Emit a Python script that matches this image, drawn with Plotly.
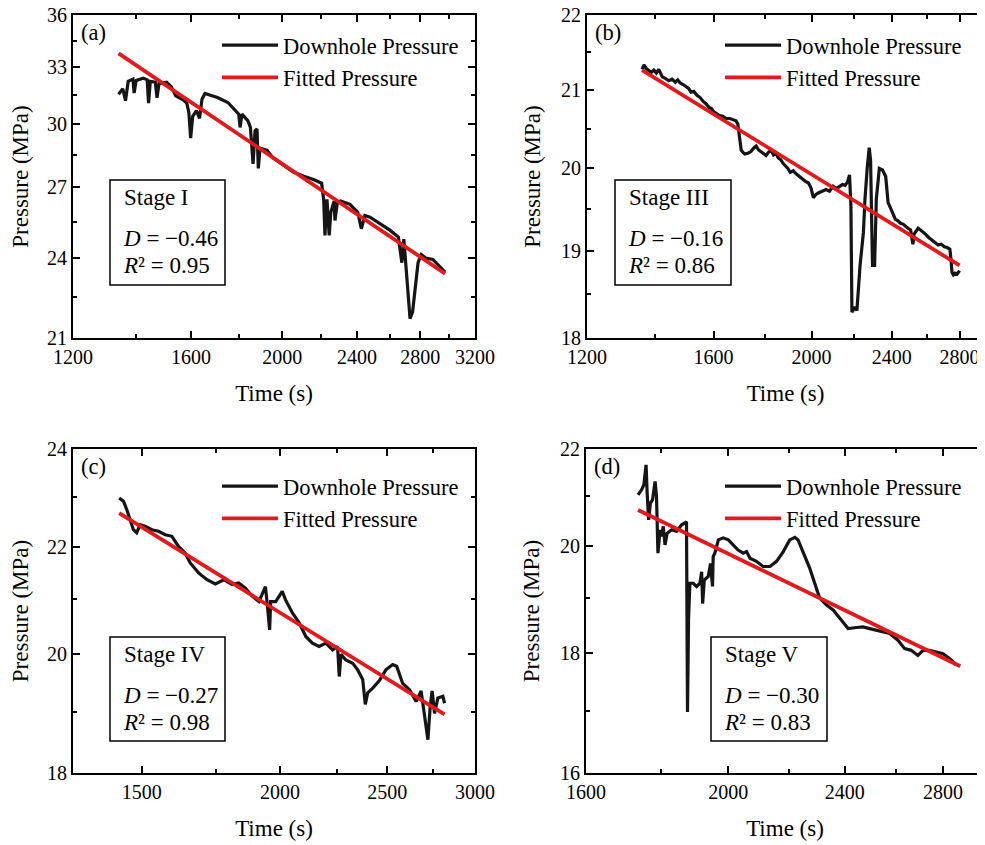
import math
import plotly.graph_objects as go

# ---------------- data ----------------
# Panel (a) Stage I
a_time = [1341,1355,1364,1373,1389,1393,1400,1424,1438,1443,
          1449,1467,1473,1480,1508,1525,1542,1570,1584,1592,
          1599,1607,1622,1634,1644,1656,1678,1707,1751,1780,
          1798,1804,1812,1839,1850,1862,1871,1880,1886,1894,
          1927,1956,1985,2018,2054,2108,2161,2201,2212,2219,
          2230,2242,2251,2269,2274,2287,2305,2359,2404,2425,
          2446,2477,2540,2602,2654,2665,2677,2690,2702,2717,
          2731,2748,2765,2785,2807,2837,2887,2937,2975]
a_pres = [31.54,31.83,31.2,32.23,32.35,31.6,32.28,32.4,32.31,31.08,
          32.23,32.18,31.35,32.1,32.18,31.94,31.46,31.25,31.08,30.6,
          29.31,30.4,30.69,30.3,31.29,31.58,31.49,31.37,31.11,30.77,
          30.51,29.84,30.51,30.17,29.84,28.08,29.68,29.76,27.87,28.83,
          28.72,28.35,28.16,27.91,27.7,27.51,27.35,27.19,26.47,24.92,
          26.47,24.92,25.9,26.39,25.55,26.32,26.39,26.25,25.9,25.2,
          25.76,25.69,25.41,25.13,24.85,24.42,23.81,24.77,23.75,22.69,
          21.69,21.94,22.81,23.81,24.14,24.0,23.94,23.63,23.44]
a_fit_time = [1341, 2975]
a_fit_pres = [33.77, 23.38]

# Panel (b) Stage III
b_time = [1360,1366,1373,1381,1389,1397,1405,1413,1419,1424,
          1434,1445,1456,1467,1475,1483,1493,1504,1512,1520,
          1530,1541,1552,1563,1573,1584,1592,1600,1610,1620,
          1634,1647,1661,1675,1684,1691,1699,1704,1711,1718,
          1730,1742,1752,1763,1773,1783,1793,1803,1813,1824,
          1834,1844,1854,1864,1875,1885,1895,1905,1918,1932,
          1945,1959,1972,1986,1997,2008,2020,2033,2050,2067,
          2083,2100,2116,2133,2145,2158,2170,2180,2187,2192,
          2208,2217,2233,2250,2258,2270,2280,2287,2297,2308,
          2317,2333,2350,2367,2380,2400,2410,2419,2434,2448,
          2462,2476,2490,2505,2518,2525,2533,2548,2562,2576,
          2591,2610,2629,2648,2667,2686,2705,2722,2739,2746,
          2752,2761,2771,2785,2800]
b_pres = [21.27,21.33,21.28,21.26,21.23,21.26,21.22,21.27,21.20,21.17,
          21.15,21.12,21.14,21.10,21.13,21.09,21.07,21.04,21.02,20.97,
          20.98,20.93,20.90,20.85,20.82,20.77,20.76,20.72,20.70,20.67,
          20.66,20.63,20.63,20.61,20.60,20.56,20.36,20.23,20.20,20.18,
          20.19,20.21,20.25,20.28,20.23,20.21,20.18,20.16,20.20,20.23,
          20.17,20.19,20.13,20.11,20.06,20.03,20.00,19.95,19.97,19.93,
          19.90,19.86,19.84,19.82,19.76,19.64,19.68,19.70,19.72,19.74,
          19.72,19.78,19.75,19.78,19.80,19.79,19.83,19.92,19.54,18.29,
          18.35,18.31,18.83,19.22,19.62,20.02,20.26,20.10,18.83,18.83,
          19.62,20.00,19.98,19.90,19.58,19.48,19.42,19.38,19.36,19.33,
          19.32,19.29,19.27,19.25,19.08,19.20,19.22,19.27,19.25,19.23,
          19.20,19.16,19.13,19.10,19.07,19.08,19.05,19.04,19.02,18.90,
          18.75,18.72,18.74,18.73,18.77]
b_fit_time = [1360, 2800]
b_fit_pres = [21.26, 18.83]

# Panel (c) Stage IV
c_time = [1431,1444,1454,1464,1474,1484,1495,1510,1532,1553,
          1575,1597,1619,1642,1659,1688,1718,1748,1779,1810,
          1835,1861,1887,1914,1940,1947,1957,1961,1982,2009,
          2023,2052,2081,2110,2139,2169,2200,2231,2254,2262,
          2270,2293,2326,2350,2375,2388,2400,2425,2459,2493,
          2528,2549,2581,2618,2654,2682,2695,2706,2720,2733,
          2744,2758,2777,2806,2816]
c_pres = [22.98,22.91,22.74,22.54,22.34,22.28,22.44,22.41,22.34,22.31,
          22.24,22.21,22.01,21.88,21.69,21.5,21.37,21.29,21.37,21.28,
          21.31,21.21,21.06,20.96,21.24,20.93,20.44,20.96,20.96,21.15,
          20.99,20.75,20.57,20.32,20.2,20.14,20.2,20.08,20.14,19.61,
          20.0,19.9,19.84,19.73,19.56,19.13,19.33,19.41,19.54,19.73,
          19.82,19.79,19.49,19.38,19.18,19.36,19.09,18.87,18.54,19.09,
          19.36,18.98,19.24,19.27,19.15]
c_fit_time = [1431, 2816]
c_fit_pres = [22.67, 18.96]

# Panel (d) Stage V
d_time = [1736,1746,1752,1758,1761,1765,1770,1776,1783,1787,
          1791,1797,1801,1806,1811,1817,1830,1844,1859,1868,
          1873,1875,1876,1879,1883,1893,1903,1913,1918,1921,
          1926,1938,1945,1951,1953,1958,1969,1984,2000,2015,
          2031,2047,2058,2069,2090,2112,2135,2157,2180,2202,
          2220,2231,2249,2272,2290,2308,2333,2357,2382,2413,
          2445,2470,2496,2536,2576,2609,2637,2664,2692,2714,
          2742,2771,2800,2837,2859]
d_pres = [21.03,21.14,21.24,21.66,21.07,20.52,20.86,20.93,21.31,21.0,
          19.86,20.32,20.19,20.39,20.02,20.25,20.32,20.29,20.42,20.45,
          20.48,18.0,16.99,18.6,19.28,19.28,19.22,19.28,19.5,18.9,
          19.34,19.41,19.66,19.22,19.79,19.86,20.12,20.16,20.12,20.02,
          19.92,19.86,19.89,19.76,19.7,19.6,19.6,19.7,19.89,20.12,
          20.17,20.12,19.89,19.57,19.28,19.0,18.87,18.78,18.63,18.44,
          18.46,18.47,18.44,18.4,18.35,18.23,18.08,18.05,17.96,18.05,
          18.05,18.02,17.99,17.88,17.79]
d_fit_time = [1736, 2877]
d_fit_pres = [20.72, 17.77]

# tick labels
a_xticks = [1200, 1600, 2000, 2400, 2800, 3200]
a_xminor = [1400, 1800, 2200, 2600, 3000]
a_yticks = [21, 24, 27, 30, 33, 36]
a_yminor = [22.5, 25.5, 28.5, 31.5, 34.5]
b_xticks = [1200, 1600, 2000, 2400, 2800]
b_xminor = [1400, 1800, 2200, 2600]
b_yticks = [18, 19, 20, 21, 22]
b_yminor = [18.5, 19.5, 20.5, 21.5]
c_xticks = [1500, 2000, 2500, 3000]
c_xminor = [1750, 2250, 2750]
c_yticks = [18, 20, 22, 24]
c_yminor = [19, 21, 23]
d_xticks = [1600, 2000, 2400, 2800]
d_xminor = [1800, 2200, 2600]
d_yticks = [16, 18, 20, 22]
d_yminor = [17, 19, 21]

stage_names = ["Stage I", "Stage III", "Stage IV", "Stage V"]
d_values = ["−0.46", "−0.16", "−0.27", "−0.30"]
r2_values = ["0.95", "0.86", "0.98", "0.83"]
panel_tags = ["(a)", "(b)", "(c)", "(d)"]

# ---------------- figure ----------------
# the page body has an 8 px margin, so the figure is drawn 8 px smaller and
# all layout positions below are given in window pixels
OFF = 8
W, H = 985 - OFF, 845 - OFF
FONT = "Liberation Serif"

def px_x(p):
    return (p - OFF) / W

def px_y(p):
    return 1 - (p - OFF) / H

panels = [
    dict(t=a_time, p=a_pres, ft=a_fit_time, fp=a_fit_pres,
         xr=(1200, 3200), yr=(21, 36), xt=a_xticks, xm=a_xminor, yt=a_yticks, ym=a_yminor,
         left=73, right=475, top=15, bottom=338, box=(110, 225, 180, 285), leg=(217, 24)),
    dict(t=b_time, p=b_pres, ft=b_fit_time, fp=b_fit_pres,
         xr=(1200, 2960), yr=(18, 22), xt=b_xticks, xm=b_xminor, yt=b_yticks, ym=b_yminor,
         left=587, right=984, top=15, bottom=338, box=(615, 731, 180, 285), leg=(720, 24)),
    dict(t=c_time, p=c_pres, ft=c_fit_time, fp=c_fit_pres,
         xr=(1300, 3000), yr=(18, 24), xt=c_xticks, xm=c_xminor, yt=c_yticks, ym=c_yminor,
         left=73, right=475, top=449, bottom=773, box=(110, 225, 637, 741), leg=(217, 465)),
    dict(t=d_time, p=d_pres, ft=d_fit_time, fp=d_fit_pres,
         xr=(1600, 2986), yr=(16, 22), xt=d_xticks, xm=d_xminor, yt=d_yticks, ym=d_yminor,
         left=586, right=984, top=449, bottom=773, box=(711, 827, 637, 741), leg=(720, 465)),
]

fig = go.Figure()
layout = dict(width=W, height=H, margin=dict(l=0, r=0, t=0, b=0, autoexpand=False),
              template="none",
              paper_bgcolor="white", plot_bgcolor="white",
              font=dict(family=FONT, size=21, color="black"),
              showlegend=True)
annotations = []
shapes = []

for i, pn in enumerate(panels):
    k = "" if i == 0 else str(i + 1)
    xa, ya = "x" + k, "y" + k
    leg = "legend" + k
    fig.add_trace(go.Scatter(x=pn["t"], y=pn["p"], mode="lines", name="Downhole Pressure",
                             line=dict(color="#151515", width=3.2), xaxis=xa, yaxis=ya, legend=leg))
    fig.add_trace(go.Scatter(x=pn["ft"], y=pn["fp"], mode="lines", name="Fitted Pressure",
                             line=dict(color="#e3191c", width=3.8), xaxis=xa, yaxis=ya, legend=leg))
    common = dict(type="log", showline=True, linecolor="black", linewidth=2, mirror="ticks",
                  ticks="inside", ticklen=7, tickwidth=2, tickcolor="black", showgrid=False,
                  zeroline=False, automargin=False, ticklabeloverflow="allow",
                  tickfont=dict(family=FONT, size=20, color="black"),
                  tickmode="array",
                  minor=dict(ticks="inside", ticklen=4, tickwidth=1.5, tickcolor="black", showgrid=False))
    xaxis = dict(common)
    xaxis.update(domain=[px_x(pn["left"]), px_x(pn["right"])],
                 range=[math.log10(pn["xr"][0]), math.log10(pn["xr"][1])],
                 tickvals=pn["xt"], ticktext=[str(v) for v in pn["xt"]],
                 anchor=ya,
                 title=dict(text="Time (s)", font=dict(family=FONT, size=23), standoff=18))
    xaxis["minor"] = dict(common["minor"], tickvals=pn["xm"])
    yaxis = dict(common)
    yaxis.update(domain=[px_y(pn["bottom"]), px_y(pn["top"])],
                 range=[math.log10(pn["yr"][0]), math.log10(pn["yr"][1])],
                 tickvals=pn["yt"], ticktext=[str(v) for v in pn["yt"]],
                 anchor=xa,
                 title=dict(text="Pressure (MPa)", font=dict(family=FONT, size=23), standoff=14))
    yaxis["minor"] = dict(common["minor"], tickvals=pn["ym"])
    layout["xaxis" + k] = xaxis
    layout["yaxis" + k] = yaxis

    lx, ly = pn["leg"]
    layout[leg] = dict(x=px_x(lx), y=px_y(ly), xanchor="left", yanchor="top",
                       bgcolor="rgba(0,0,0,0)", borderwidth=0, itemwidth=56,
                       font=dict(family=FONT, size=22.5, color="black"), tracegroupgap=0)

    # panel tag
    annotations.append(dict(text=panel_tags[i], xref="paper", yref="paper",
                            x=px_x(pn["left"] + 6), y=px_y(pn["top"] + 18), xanchor="left", yanchor="middle",
                            showarrow=False, font=dict(family=FONT, size=22.5)))
    bx0, bx1, by0, by1 = pn["box"]
    shapes.append(dict(type="rect", xref="paper", yref="paper",
                       x0=px_x(bx0), x1=px_x(bx1), y0=px_y(by1), y1=px_y(by0),
                       line=dict(color="black", width=1.5), fillcolor="rgba(0,0,0,0)"))
    annotations.append(dict(text=stage_names[i], xref="paper", yref="paper",
                            x=px_x(bx0 + 12), y=px_y(by0 + 17), xanchor="left", yanchor="middle",
                            showarrow=False, font=dict(family=FONT, size=23)))
    annotations.append(dict(text="<i>D</i> = " + d_values[i], xref="paper", yref="paper",
                            x=px_x(bx0 + 11), y=px_y(by0 + 58), xanchor="left", yanchor="middle",
                            showarrow=False, font=dict(family=FONT, size=23)))
    annotations.append(dict(text="<i>R</i>² = " + r2_values[i], xref="paper", yref="paper",
                            x=px_x(bx0 + 11), y=px_y(by0 + 85), xanchor="left", yanchor="middle",
                            showarrow=False, font=dict(family=FONT, size=23)))

layout["annotations"] = annotations
layout["shapes"] = shapes
fig.update_layout(**layout)
fig.write_html("out.html")
